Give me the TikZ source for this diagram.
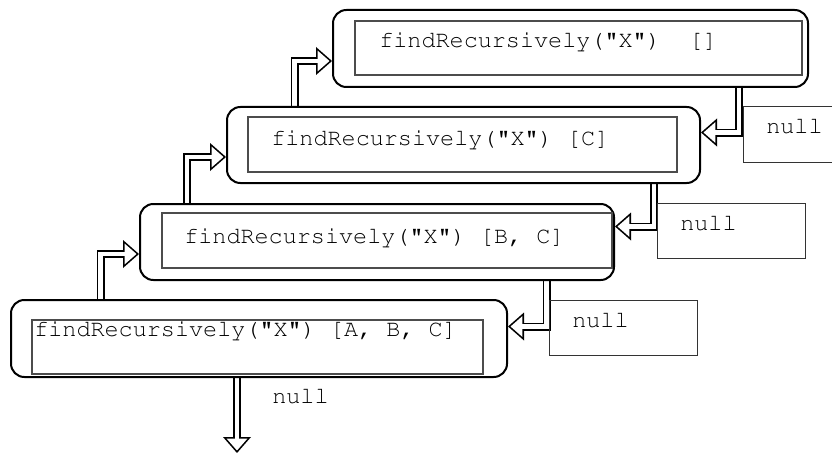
\documentclass[tikz,border=0pt]{standalone}
\usepackage[T1]{fontenc}
\usepackage{courier}
\usetikzlibrary{arrows.meta,fit,backgrounds}
\colorlet{framegray}{black!70}

\begin{document}
\begin{tikzpicture}[x=0.75pt,y=-0.75pt]
\useasboundingbox (0,0) rectangle (832,453);
\clip (0,0) rectangle (832,453);
\tikzset{CallStyle/.style ={draw, line width=1.5pt, rounded corners=10pt, inner sep=0pt}}
\tikzset{FrameStyle/.style ={draw=framegray, line width=0.8pt, inner sep=0pt}}
\tikzset{NullStyle/.style ={draw=black!80, line width=0.75pt, inner sep=0pt}}
\tikzset{TextStyle/.style ={inner sep=0pt, anchor=base west, font=\ttfamily\fontsize{17.6pt}{20pt}\selectfont}}
\tikzset{FatStyle/.style ={line width=6pt, -{Triangle[length=12pt,width=21pt,line width=0pt]},
  postaction={draw=white, line width=3.5pt, shorten >=1.9pt, -{Triangle[length=8.85pt,width=15.49pt,line width=0pt]}}}}
% calls
\node[CallStyle, fit={(11,300) (507,377)}] (call1) {};
\node[CallStyle, fit={(140,204) (614,280)}] (call2) {};
\node[CallStyle, fit={(227,107) (700,183)}] (call3) {};
\node[CallStyle, fit={(333,10) (808,87)}] (call4) {};
\node[FrameStyle, fit={(32,320) (483,374)}] (frame1) {};
\node[FrameStyle, fit={(162,213) (612,268)}] (frame2) {};
\node[FrameStyle, fit={(248,117) (677,172)}] (frame3) {};
\node[FrameStyle, fit={(355,21) (802,75)}] (frame4) {};
\node[TextStyle] (text1) at (34,336) {findRecursively("X") [A, B, C]};
\node[TextStyle] (text2) at (184,243) {findRecursively("X") [B, C]};
\node[TextStyle] (text3) at (271,145) {findRecursively("X") [C]};
\node[TextStyle] (text4) at (379,48) {findRecursively("X")\ \ []};
% results
\node[NullStyle, fit={(549,300) (697,355)}] (null1) {};
\node[NullStyle, fit={(657,203) (805,258)}] (null2) {};
\node[NullStyle, fit={(743,107) (840,162)}] (null3) {};
\node[TextStyle] (nulltext1) at (572,327) {null};
\node[TextStyle] (nulltext2) at (680,230) {null};
\node[TextStyle] (nulltext3) at (766,133) {null};
\node[TextStyle] (nulltext0) at (272,403) {null};
\begin{pgfonlayer}{background}
\coordinate (up1) at (100.5,254);
\coordinate (up2) at (187,157);
\coordinate (up3) at (294.5,61);
\coordinate (down3) at (739,132.5);
\coordinate (down2) at (654,226.5);
\coordinate (down1) at (546.5,326.5);
\coordinate (out) at (237,453);
\draw[FatStyle] (up1 |- call1.north) |- (call2.west |- up1);
\draw[FatStyle] (up2 |- call2.north) |- (call3.west |- up2);
\draw[FatStyle] (up3 |- call3.north) |- (call4.west |- up3);
\draw[FatStyle] (down3 |- call4.south) |- (call3.east |- down3);
\draw[FatStyle] (down2 |- call3.south) |- (call2.east |- down2);
\draw[FatStyle] (down1 |- call2.south) |- (call1.east |- down1);
\draw[FatStyle] (out |- call1.south) -- (out);
\end{pgfonlayer}
\end{tikzpicture}
\end{document}
